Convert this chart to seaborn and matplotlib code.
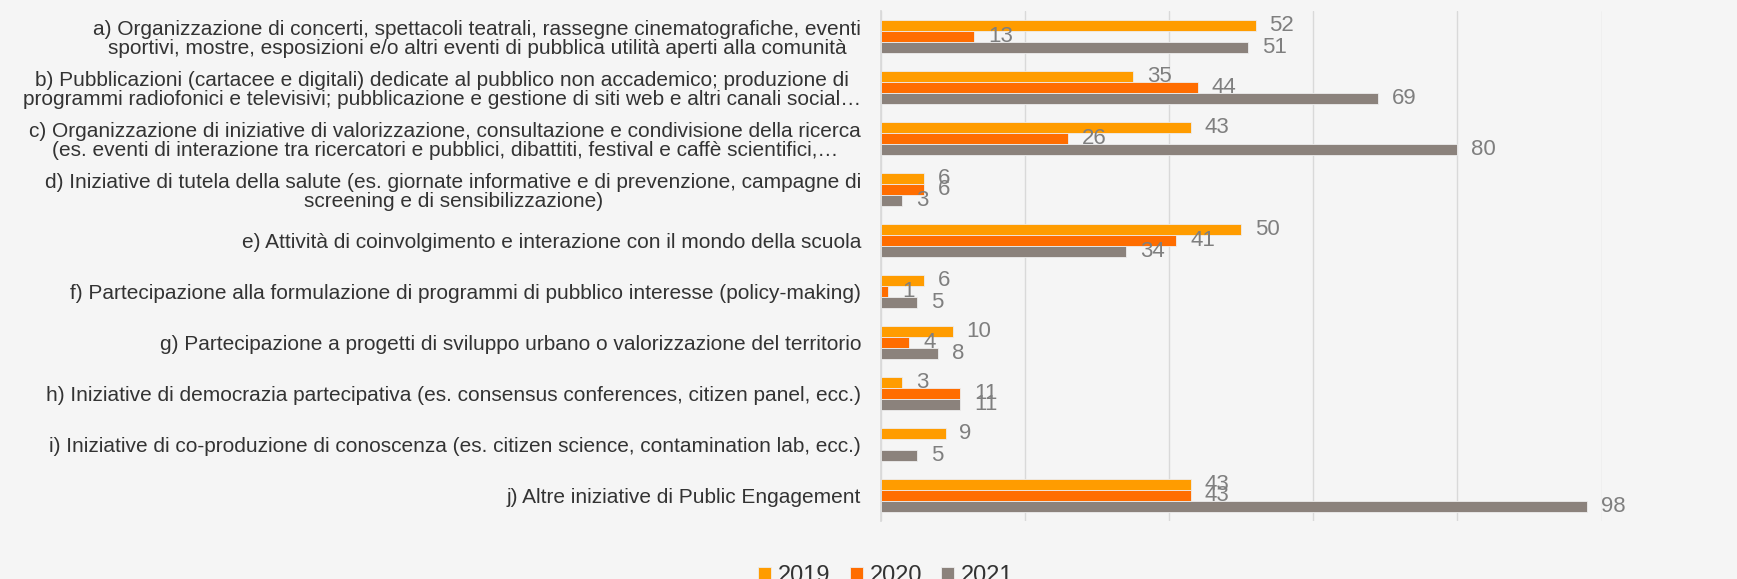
import pandas as pd
import seaborn as sns
import matplotlib.pyplot as plt

# Categorie (etichette asse y)
categorie = [
    "a) Organizzazione di concerti, spettacoli teatrali, rassegne cinematografiche, eventi\n"
    "sportivi, mostre, esposizioni e/o altri eventi di pubblica utilità aperti alla comunità",
    "b) Pubblicazioni (cartacee e digitali) dedicate al pubblico non accademico; produzione di\n"
    "programmi radiofonici e televisivi; pubblicazione e gestione di siti web e altri canali social…",
    "c) Organizzazione di iniziative di valorizzazione, consultazione e condivisione della ricerca\n"
    "(es. eventi di interazione tra ricercatori e pubblici, dibattiti, festival e caffè scientifici,…",
    "d) Iniziative di tutela della salute (es. giornate informative e di prevenzione, campagne di\n"
    "screening e di sensibilizzazione)",
    "e) Attività di coinvolgimento e interazione con il mondo della scuola",
    "f) Partecipazione alla formulazione di programmi di pubblico interesse (policy-making)",
    "g) Partecipazione a progetti di sviluppo urbano o valorizzazione del territorio",
    "h) Iniziative di democrazia partecipativa (es. consensus conferences, citizen panel, ecc.)",
    "i) Iniziative di co-produzione di conoscenza (es. citizen science, contamination lab, ecc.)",
    "j) Altre iniziative di Public Engagement",
]

anni = ["2019", "2020", "2021"]
valori_2019 = [52, 35, 43, 6, 50, 6, 10, 3, 9, 43]
valori_2020 = [13, 44, 26, 6, 41, 1, 4, 11, 0, 43]
valori_2021 = [51, 69, 80, 3, 34, 5, 8, 11, 5, 98]

colori = ["#FF9C00", "#FF6D00", "#8B827C"]
sfondo = "#F5F5F5"

# Tabella in formato lungo per seaborn
df = pd.DataFrame({
    "categoria": categorie * 3,
    "anno": [a for a in anni for _ in categorie],
    "valore": valori_2019 + valori_2020 + valori_2021,
})

sns.set_theme(style="whitegrid")
plt.rcParams["font.family"] = ["Liberation Sans", "DejaVu Sans"]

fig, ax = plt.subplots(figsize=(17.37, 5.79), dpi=100)
fig.patch.set_facecolor(sfondo)
ax.set_facecolor(sfondo)

sns.barplot(data=df, y="categoria", x="valore", hue="anno", orient="h",
            palette=colori, saturation=1, width=0.66, edgecolor="#EDEDED",
            linewidth=0.6, ax=ax)

# Etichette dei valori
for cont in ax.containers:
    ax.bar_label(cont, fmt=lambda v: f"{v:g}" if v > 0 else "",
                 padding=10, fontsize=16, color="#7F7F7F")

ax.set_xlim(0, 100)
ax.set_xticks(range(0, 101, 20))
ax.set_xticklabels([])
ax.tick_params(axis="x", length=0)
ax.tick_params(axis="y", length=0, pad=14, labelsize=15, labelcolor="#333333")
for lab in ax.get_yticklabels():
    lab.set_multialignment("center")
    lab.set_linespacing(1.05)

ax.grid(axis="x", color="#D9D9D9", linewidth=1)
ax.grid(axis="y", visible=False)
for lato in ["top", "right", "bottom"]:
    ax.spines[lato].set_visible(False)
ax.spines["left"].set_color("#D9D9D9")
ax.set_xlabel("")
ax.set_ylabel("")

handles, labels = ax.get_legend_handles_labels()
ax.legend(handles, labels, loc="center", bbox_to_anchor=(0.51, 0.005),
          bbox_transform=fig.transFigure, ncol=3, frameon=False, fontsize=17,
          handlelength=0.55, handleheight=0.55, handletextpad=0.3,
          columnspacing=0.8, labelcolor="#333333")

plt.subplots_adjust(left=0.507, right=0.922, top=0.981, bottom=0.1)
plt.savefig("out.png", dpi=100, facecolor=sfondo)
